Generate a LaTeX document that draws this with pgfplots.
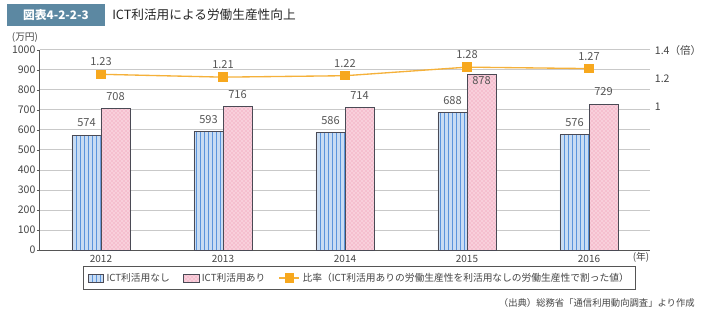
\documentclass[border=0pt]{standalone}
\usepackage{fontspec}
\setmainfont{Noto Sans CJK JP}
\usepackage{pgfplots}
\pgfplotsset{compat=1.18}
\usepackage{pgfplotstable}
\usetikzlibrary{patterns}
\definecolor{titlebox}{HTML}{5C88A2}
\definecolor{bluefill}{HTML}{C8DCF3}
\definecolor{bluestripe}{HTML}{5A94DC}
\definecolor{pinkfill}{HTML}{F8CFDB}
\definecolor{pinkdot}{HTML}{EC8EAA}
\definecolor{baredge}{HTML}{4A4A55}
\definecolor{ratioc}{HTML}{F5B13A}
\definecolor{ratiomark}{HTML}{F7A81E}
\definecolor{gridc}{HTML}{C9C9C9}
\definecolor{axisc}{HTML}{555555}
\definecolor{txt}{HTML}{444444}
\definecolor{lbl}{HTML}{555555}

\pgfplotstableread{
x a b r sh
0 574 708 1.23 0
1 593 716 1.21 0
2 586 714 1.22 0
3 688 878 1.28 -14
4 576 729 1.27 0
}\data

\begin{document}
\begin{tikzpicture}
\useasboundingbox (0,0) rectangle (528pt,-240.75pt);
\begin{axis}[
  at={(30pt,-187.5pt)}, anchor=south west,
  width=457.5pt, height=150pt, scale only axis,
  xmin=-0.5, xmax=4.5, ymin=0, ymax=1000,
  ytick distance=100,
  xtick={0,...,4}, xticklabels={2012,2013,2014,2015,2016},
  axis x line*=bottom, axis y line*=left,
  every outer x axis line/.append style={-},
  every outer y axis line/.append style={-},
  axis line style={-, axisc, line width=0.75pt},
  ymajorgrids, grid style={gridc, line width=0.75pt},
  xtick style={draw=none},
  extra x ticks={-0.5,0.5,1.5,2.5,3.5,4.5},
  extra x tick labels={},
  extra x tick style={/pgfplots/major tick length=3.5pt, /pgfplots/tick align=outside, /tikz/draw=axisc, /tikz/line width=0.75pt, grid=none},
  ytick style={axisc, line width=0.6pt},
  tick align=outside, major tick length=2.25pt,
  /pgf/number format/assume math mode=true,
  /pgf/number format/1000 sep={},
  yticklabel style={font=\fontsize{7.9}{9}\selectfont, text=txt, inner sep=1pt},
  xticklabel style={font=\fontsize{7.5}{9}\selectfont, text=txt, inner sep=1.5pt},
  ybar=0pt, bar width=21.75pt,
  nodes near coords,
  every node near coord/.append style={font=\fontsize{8.3}{10}\selectfont, text=lbl, yshift=2.5pt},
  clip=false,
]
\addplot[draw=baredge, line width=0.6pt, fill=bluefill, postaction={pattern=vertical lines, pattern color=bluestripe}] table[x=x,y=a]{\data};
\addplot[draw=baredge, line width=0.6pt, fill=pinkfill, postaction={pattern=crosshatch dots, pattern color=pinkdot},
  visualization depends on={\thisrow{sh}\as\mysh},
  every node near coord/.append style={yshift=\mysh pt}] table[x=x,y=b]{\data};
\end{axis}

\begin{axis}[
  at={(30pt,-187.5pt)}, anchor=south west,
  width=457.5pt, height=150pt, scale only axis,
  xmin=-0.5, xmax=4.5, ymin=0, ymax=1.4,
  axis x line=none,
  axis y line*=right,
  y axis line style={draw=none},
  ytick={1,1.2,1.4}, yticklabels={1,1.2,{1.4（倍）}},
  ytick style={draw=none},
  yticklabel style={font=\fontsize{7.9}{9}\selectfont, text=txt, inner sep=1pt, xshift=2.5pt},
  /pgf/number format/assume math mode=true,
  clip=false,
  legend columns=3,
  legend style={at={(0.524,-0.14)}, anchor=center, draw=axisc, line width=0.6pt,
    font=\fontsize{7.3}{8.8}\selectfont, text=txt, inner xsep=3pt, inner ysep=2.5pt,
    /tikz/every even column/.append style={column sep=8pt}},
  legend cell align=left,
]
\addlegendimage{legend image code/.code={\draw[draw=baredge,line width=0.5pt,fill=bluefill,postaction={pattern=vertical lines,pattern color=bluestripe}] (0pt,-3pt) rectangle (11.5pt,3pt);}}
\addlegendentry{ICT利活用なし}
\addlegendimage{legend image code/.code={\draw[draw=baredge,line width=0.5pt,fill=pinkfill,postaction={pattern=crosshatch dots,pattern color=pinkdot}] (0pt,-3pt) rectangle (11.5pt,3pt);}}
\addlegendentry{ICT利活用あり}
\addplot[ratioc, line width=1pt, mark=square*, mark size=3pt, mark options={fill=ratiomark, draw=ratiomark},
  nodes near coords={\pgfmathprintnumber[fixed,fixed zerofill,precision=2]{\pgfplotspointmeta}},
  every node near coord/.append style={font=\fontsize{8.3}{10}\selectfont, text=lbl, yshift=2.4pt},
  legend image code/.code={\draw[ratioc,line width=1pt] (0pt,0pt) -- (15pt,0pt); \fill[ratiomark] (4.5pt,-3pt) rectangle (10.5pt,3pt);}
  ] table[x=x,y=r]{\data};
\addlegendentry{比率（ICT利活用ありの労働生産性を利活用なしの労働生産性で割った値）}
\end{axis}

\begin{scope}[x=0.75pt,y=-0.75pt]
\fill[titlebox] (7,4) rectangle (105,26);
\node[text=white, font=\bfseries\fontsize{8.8}{10}\selectfont, inner sep=0] at (56,15) {図表4-2-2-3};
\node[anchor=west, font=\fontsize{9.5}{11}\selectfont, inner sep=0, text=black!85] at (112,15) {ICT利活用による労働生産性向上};
\node[font=\fontsize{7.3}{9}\selectfont, text=txt, inner sep=0] at (25,37) {(万円)};
\node[font=\fontsize{7.3}{9}\selectfont, text=txt, inner sep=0] at (641,257) {(年)};
\node[anchor=east, font=\fontsize{7}{9}\selectfont, text=txt, inner sep=0] at (695,303) {（出典）総務省「通信利用動向調査」より作成};
\end{scope}
\end{tikzpicture}
\end{document}
